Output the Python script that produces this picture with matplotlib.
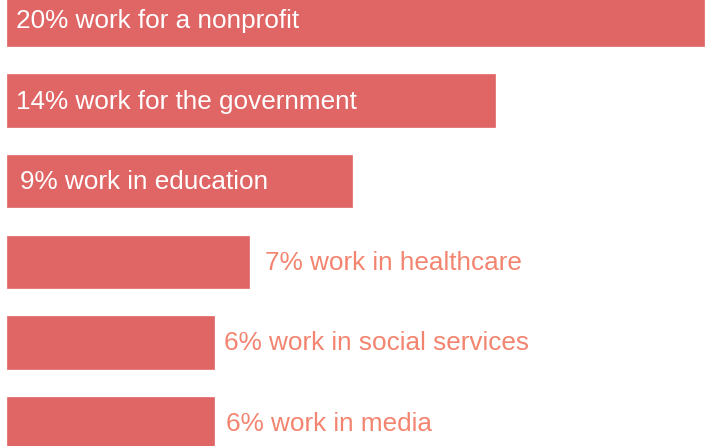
import matplotlib
matplotlib.use("Agg")
import matplotlib.pyplot as plt

# share of respondents by sector
sectors = ["work for a nonprofit", "work for the government", "work in education",
           "work in healthcare", "work in social services", "work in media"]
labels = ["20%", "14%", "9%", "7%", "6%", "6%"]
values = [20, 14, 9.9, 6.95, 5.95, 5.95]
inside = [True, True, True, False, False, False]

bar_color = "#E06666"
out_color = "#F3846F"
pads = [9, 9, 13, 16, 10, 12]  # px offset of each label

plt.rcParams['font.family'] = ['Liberation Sans', 'DejaVu Sans']

fig = plt.figure(figsize=(7.12, 4.46), dpi=100)
ax = fig.add_axes([0, 0, 1, 1])

pos = list(range(len(values)))
ax.barh(pos, values, height=0.65, color=bar_color, edgecolor=bar_color,
        linewidth=0.5, joinstyle='round')

for i in pos:
    txt = labels[i] + " " + sectors[i]
    if inside[i]:
        ax.annotate(txt, (0, i), xytext=(pads[i], -1), textcoords='offset pixels',
                    va='center', ha='left', color='white', fontsize=18.85)
    else:
        ax.annotate(txt, (values[i], i), xytext=(pads[i], -1), textcoords='offset pixels',
                    va='center', ha='left', color=out_color, fontsize=18.85)

ax.set_xlim(-0.2, 20.23)
ax.set_ylim(5.285, -0.248)
ax.axis('off')

fig.savefig("out.png", dpi=100)
